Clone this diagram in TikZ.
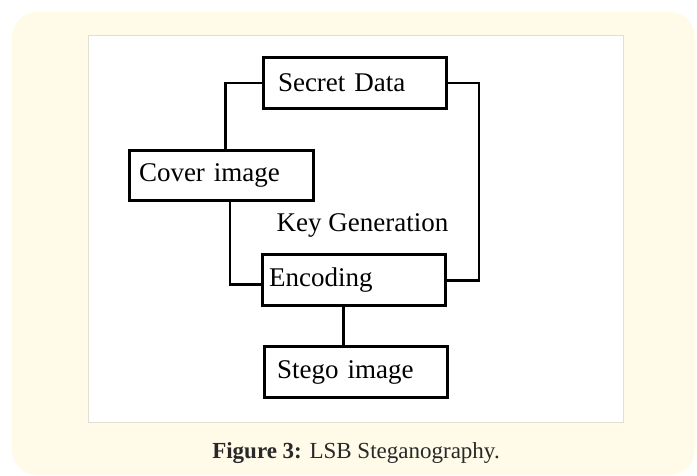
\documentclass[tikz,border=0pt]{standalone}
\usepackage{fontspec}
\setmainfont{Liberation Serif}
\definecolor{cream}{RGB}{255,251,232}
\definecolor{captxt}{RGB}{40,40,40}
\definecolor{panelline}{RGB}{225,222,210}
\begin{document}
\begin{tikzpicture}[x=1pt,y=-1pt,
  box/.style={draw=black,line width=3pt,minimum height=50.5pt,anchor=center,
    font=\fontsize{27}{31}\selectfont,align=left,inner ysep=0pt},
  conn/.style={draw=black,line width=2.6pt},
  lbl/.style={font=\fontsize{27}{31}\selectfont,inner sep=0pt,anchor=base west}]
\useasboundingbox (0,0) rectangle (697,475);
\fill[white] (0,0) rectangle (697,475);
\fill[cream,rounded corners=25pt] (12,12) rectangle (695,475);
\fill[white,draw=panelline,line width=0.6pt] (88,35) rectangle (623,422);
\node[box,inner xsep=15pt,text width=153pt] (sec) at (354.5,83) {Secret Data};
\node[box,inner xsep=10pt,text width=164pt] (cov) at (221,175.3) {Cover image};
\node[box,inner xsep=7pt,text width=169.3pt] (enc) at (353.8,280.2) {Encoding};
\node[box,inner xsep=13pt,text width=157.6pt] (steg) at (356,372.2) {Stego image};
\node[lbl] (key) at (276.4,231.7) {Key Generation};
\draw[conn] (sec.west) -| ([xshift=4.7pt]cov.north);
\draw[conn] (sec.east) -- ++(31.5,0) |- (enc.east);
\draw[conn] ([xshift=9pt]cov.south) |- ([yshift=-4pt]enc.west);
\draw[conn] ([xshift=-10.2pt]enc.south) -- ([xshift=-10.2pt]enc.south |- steg.north);
\node[font=\fontsize{23}{27}\selectfont,text=captxt,inner sep=0pt,anchor=base] (cap) at (356,458)
  {\textbf{Figure 3:} LSB Steganography.};
\end{tikzpicture}
\end{document}
